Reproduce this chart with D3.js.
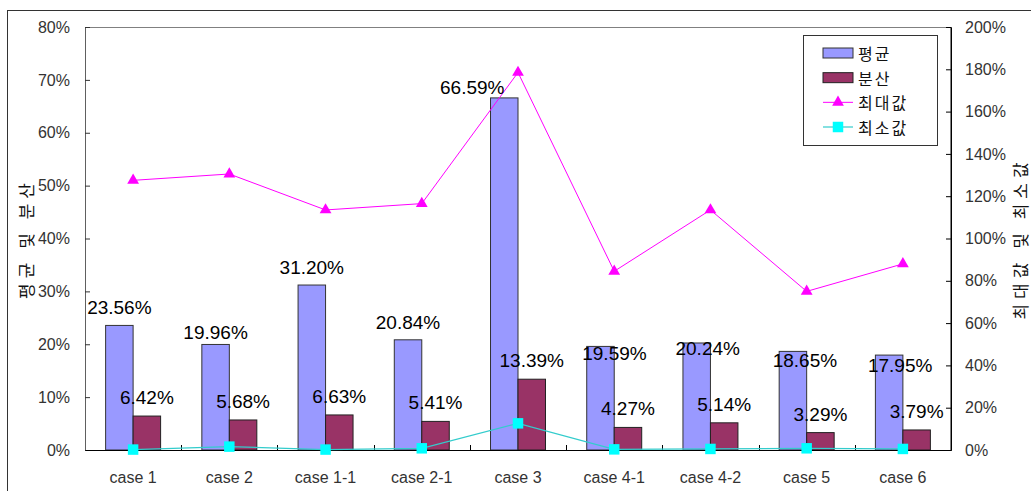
<!DOCTYPE html>
<html>
<head>
<meta charset="utf-8">
<script src="https://cdn.jsdelivr.net/npm/d3@7"></script>
<style>
  html, body { margin: 0; padding: 0; background: #fff; }
  svg { display: block; }
  .tick text { font-family: "Liberation Sans", Arial, sans-serif; font-size: 16px; fill: #333; }
</style>
</head>
<body>
<svg id="chart" width="1031" height="491"></svg>
<script>
// Case names along the x axis
const categories = ["case 1", "case 2", "case 1-1", "case 2-1", "case 3", "case 4-1", "case 4-2", "case 5", "case 6"];
// Left axis series (percent)
const meanValues = [23.56, 19.96, 31.20, 20.84, 66.59, 19.59, 20.24, 18.65, 17.95];
const varianceValues = [6.42, 5.68, 6.63, 5.41, 13.39, 4.27, 5.14, 3.29, 3.79];
// Right axis series (percent)
const maxValues = [127.5, 130.5, 113.5, 116.5, 178.5, 84.5, 113.5, 75.0, 88.0];
const minValues = [0.2, 1.6, 0.2, 0.8, 12.6, 0.3, 0.5, 0.8, 0.5];
// Tick labels
const leftTicks = [0, 10, 20, 30, 40, 50, 60, 70, 80];
const rightTicks = [0, 20, 40, 60, 80, 100, 120, 140, 160, 180, 200];
// Legend entries
const legendLabels = ["평균", "분산", "최대값", "최소값"];

// hand-placed nudges [dx, dy] for the mean labels, relative to the default spot
const meanLabelNudge = [[0, 0], [0, 6], [0, 0], [0, 0], [-32, 7], [14, 25], [11, 23], [12, 27], [11, 28]];

const colors = { mean: "#9999FF", variance: "#993366", max: "#FF00FF", minLine: "#33CCCC", minMarker: "#00FFFF" };
const latin = '"Liberation Sans", Arial, sans-serif';
const korean = '"Noto Sans CJK KR", "Noto Sans", sans-serif';

const svg = d3.select("#chart");
const plot = { left: 85, right: 951, top: 27, bottom: 450 };

// outer chart frame
svg.append("rect")
  .attr("x", 7.5).attr("y", 10.5)
  .attr("width", 1100).attr("height", 600)
  .attr("fill", "#fff").attr("stroke", "#333").attr("stroke-width", 1);

const x = d3.scaleBand().domain(categories).range([plot.left, plot.right]).paddingInner(0).paddingOuter(0);
const yL = d3.scaleLinear().domain([0, 80]).range([plot.bottom, plot.top]);
const yR = d3.scaleLinear().domain([0, 200]).range([plot.bottom, plot.top]);
const barW = x.bandwidth() / 3.5;
const cx = c => x(c) + x.bandwidth() / 2;

// plot area border
svg.append("rect")
  .attr("x", plot.left + 0.5).attr("y", plot.top + 0.5)
  .attr("width", plot.right - plot.left - 1).attr("height", plot.bottom - plot.top)
  .attr("fill", "#fff").attr("stroke", "#808080");

// bars
svg.append("g").selectAll("rect").data(categories).join("rect")
  .attr("x", (c) => cx(c) - barW)
  .attr("y", (c, i) => yL(meanValues[i]))
  .attr("width", barW)
  .attr("height", (c, i) => plot.bottom - yL(meanValues[i]))
  .attr("fill", colors.mean).attr("stroke", "#333").attr("stroke-width", 1);

svg.append("g").selectAll("rect").data(categories).join("rect")
  .attr("x", (c) => cx(c))
  .attr("y", (c, i) => yL(varianceValues[i]))
  .attr("width", barW)
  .attr("height", (c, i) => plot.bottom - yL(varianceValues[i]))
  .attr("fill", colors.variance).attr("stroke", "#222").attr("stroke-width", 1);

// axes
const axL = svg.append("g").attr("transform", `translate(${plot.left},0)`)
  .call(d3.axisLeft(yL).tickValues(leftTicks).tickFormat(d => d + "%").tickSize(-5).tickPadding(15));
axL.select(".domain").attr("stroke", "#606060");
axL.selectAll(".tick line").attr("stroke", "#333");

const axR = svg.append("g").attr("transform", `translate(${plot.right},0)`)
  .call(d3.axisRight(yR).tickValues(rightTicks).tickFormat(d => d + "%").tickSize(-5).tickPadding(14));
axR.select(".domain").attr("stroke", "#000");
axR.selectAll(".tick line").attr("stroke", "#000");

const axB = svg.append("g").attr("transform", `translate(0,${plot.bottom})`)
  .call(d3.axisBottom(x).tickSize(0).tickPadding(22));
axB.select(".domain").attr("stroke", "#000");

// category divider ticks
svg.append("g").selectAll("line").data(categories.slice(1)).join("line")
  .attr("x1", c => Math.round(x(c)) + 0.5).attr("x2", c => Math.round(x(c)) + 0.5)
  .attr("y1", plot.bottom).attr("y2", plot.bottom - 5)
  .attr("stroke", "#000");

// max / min lines
const lineMax = d3.line().x((d, i) => cx(categories[i])).y(d => yR(d));
svg.append("path").datum(maxValues).attr("d", lineMax)
  .attr("fill", "none").attr("stroke", colors.max).attr("stroke-width", 1);
svg.append("path").datum(minValues).attr("d", lineMax)
  .attr("fill", "none").attr("stroke", colors.minLine).attr("stroke-width", 1.2);

const tri = d3.symbol().type(d3.symbolTriangle).size(60);
const sq = d3.symbol().type(d3.symbolSquare).size(110);
svg.append("g").selectAll("path").data(maxValues).join("path")
  .attr("d", tri)
  .attr("transform", (d, i) => `translate(${cx(categories[i])},${yR(d)})`)
  .attr("fill", colors.max);
svg.append("g").selectAll("path").data(minValues).join("path")
  .attr("d", sq)
  .attr("transform", (d, i) => `translate(${cx(categories[i])},${yR(d)})`)
  .attr("fill", colors.minMarker);

// value labels
const fmt = v => v.toFixed(2) + "%";
svg.append("g").selectAll("text").data(meanValues).join("text")
  .attr("x", (d, i) => cx(categories[i]) - barW / 2 + meanLabelNudge[i][0])
  .attr("y", (d, i) => yL(d) - 11 + meanLabelNudge[i][1])
  .attr("text-anchor", "middle")
  .attr("font-family", latin).attr("font-size", 19).attr("fill", "#000")
  .text(fmt);

svg.append("g").selectAll("text").data(varianceValues).join("text")
  .attr("x", (d, i) => cx(categories[i]) + barW / 2)
  .attr("y", d => yL(d) - 12)
  .attr("text-anchor", "middle")
  .attr("font-family", latin).attr("font-size", 19).attr("fill", "#000")
  .text(fmt);

// axis titles
const midY = (plot.top + plot.bottom) / 2;
svg.append("text")
  .attr("transform", `translate(25,${midY}) rotate(-90)`)
  .attr("text-anchor", "middle").attr("dominant-baseline", "central")
  .attr("font-family", korean).attr("font-size", 17).attr("letter-spacing", 5).attr("fill", "#111")
  .text("평균 및 분산");
svg.append("text")
  .attr("transform", `translate(1019,${midY}) rotate(-90)`)
  .attr("text-anchor", "middle").attr("dominant-baseline", "central")
  .attr("font-family", korean).attr("font-size", 17).attr("letter-spacing", 5).attr("fill", "#111")
  .text("최대값 및 최소값");

// legend
const lg = svg.append("g");
lg.append("rect").attr("x", 803.5).attr("y", 35.5).attr("width", 134).attr("height", 110)
  .attr("fill", "#fff").attr("stroke", "#333");
const rowY = d3.scalePoint().domain(legendLabels).range([53, 127]);
const sx = 823, sw = 30;
lg.append("rect").attr("x", sx).attr("y", rowY("평균") - 5).attr("width", sw).attr("height", 10)
  .attr("fill", colors.mean).attr("stroke", "#333");
lg.append("rect").attr("x", sx).attr("y", rowY("분산") - 5).attr("width", sw).attr("height", 10)
  .attr("fill", colors.variance).attr("stroke", "#222");
lg.append("line").attr("x1", sx).attr("x2", sx + sw).attr("y1", rowY("최대값")).attr("y2", rowY("최대값"))
  .attr("stroke", colors.max);
lg.append("path").attr("d", tri).attr("transform", `translate(${sx + sw / 2},${rowY("최대값")})`).attr("fill", colors.max);
lg.append("line").attr("x1", sx).attr("x2", sx + sw).attr("y1", rowY("최소값")).attr("y2", rowY("최소값"))
  .attr("stroke", colors.minLine).attr("stroke-width", 1.2);
lg.append("path").attr("d", sq).attr("transform", `translate(${sx + sw / 2},${rowY("최소값")})`).attr("fill", colors.minMarker);
lg.selectAll("text").data(legendLabels).join("text")
  .attr("x", 858).attr("y", d => rowY(d))
  .attr("dominant-baseline", "central")
  .attr("font-family", korean).attr("font-size", 16).attr("letter-spacing", 2).attr("fill", "#111")
  .text(d => d);
</script>
</body>
</html>
